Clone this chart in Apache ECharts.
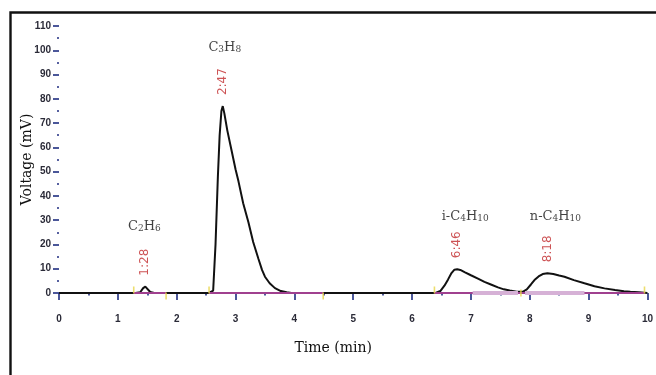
<!DOCTYPE html>
<html>
<head>
<meta charset="utf-8">
<script src="https://cdn.jsdelivr.net/npm/echarts@6/dist/echarts.min.js"></script>
<style>
  html, body { margin: 0; padding: 0; background: #fff; }
  #chart { width: 656px; height: 375px; }
</style>
</head>
<body>
<div id="chart"></div>
<script>
// Detector trace: time (min) and signal (mV)
const times = [0, 1.30, 1.38, 1.43, 1.467, 1.50, 1.55, 1.62,
  2.55, 2.62, 2.66, 2.70, 2.73, 2.76, 2.783, 2.81, 2.86, 2.93, 3.00, 3.05, 3.13, 3.22, 3.30, 3.39, 3.45, 3.50, 3.58, 3.67, 3.77, 3.87, 3.95,
  6.40, 6.48, 6.55, 6.61, 6.67, 6.72, 6.767, 6.82, 6.90, 7.00, 7.12, 7.23, 7.35, 7.46, 7.56, 7.66, 7.78,
  7.88, 7.95, 8.02, 8.08, 8.15, 8.22, 8.30, 8.40, 8.50, 8.59, 8.75, 8.93, 9.10, 9.27, 9.45, 9.60, 9.71, 9.85, 9.95, 10];
const voltage = [0, 0, 0.3, 2.0, 2.6, 2.0, 0.4, 0,
  0, 1, 20, 48, 65, 75, 77, 74, 67, 59, 51, 46, 37, 29, 21, 14, 9.5, 6.7, 4, 2, 0.8, 0.3, 0,
  0, 0.8, 3, 5.5, 8.2, 9.6, 9.8, 9.5, 8.5, 7.3, 5.9, 4.6, 3.4, 2.3, 1.5, 1, 0.5,
  0.5, 1.5, 3.5, 5.3, 6.8, 7.8, 8.1, 7.8, 7.2, 6.7, 5.3, 4.0, 2.8, 1.9, 1.2, 0.7, 0.5, 0.3, 0.1, 0];

// Identified peaks
const compoundNames = ['C2H6', 'C3H8', 'i-C4H10', 'n-C4H10'];
const retentionLabels = ['1:28', '2:47', '6:46', '8:18'];
const retentionTimes = [1.467, 2.783, 6.767, 8.30];
const peakHeights = [2.6, 77, 9.8, 8.1];

// Integration baselines (start, end) and highlighted sections
const baselineSegments = [[1.27, 1.82], [2.55, 4.49], [6.38, 7.85], [7.85, 9.95]];
const bandSegments = [[7.03, 7.80], [7.92, 8.93]];
const eventMarksUp = [1.27, 2.55, 6.38, 9.95];
const eventMarksDown = [1.82, 4.49];
const eventMarksMid = [7.85];

const xTicks = [0, 1, 2, 3, 4, 5, 6, 7, 8, 9, 10];
const yTicks = [0, 10, 20, 30, 40, 50, 60, 70, 80, 90, 100, 110];
const yMinorTicks = [5, 15, 25, 35, 45, 55, 65, 75, 85, 95, 105];

// The time scale sits a little below the zero line; the signal axis
// starts just under zero so that gap stays empty.
const yBottom = -4.95;
const yTop = 110;

// Name label placement relative to each peak apex (px)
const nameOffsets = [[-1, -62], [2, -60], [8, -54], [8, -58]];

function subscriptRich(name) {
  return name.replace(/(\d+)|([^\d]+)/g, (m, d, t) => d ? '{s|' + d + '}' : '{n|' + t + '}');
}

const trace = times.map((t, i) => [t, voltage[i]]);

const series = [{
  type: 'line',
  name: 'signal',
  data: trace,
  symbol: 'none',
  lineStyle: { color: '#111', width: 2 },
  z: 3
}];

baselineSegments.forEach(seg => {
  series.push({
    type: 'line',
    data: [[seg[0], 0], [seg[1], 0]],
    symbol: 'none',
    lineStyle: { color: '#a0408f', width: 1.8 },
    silent: true,
    z: 4
  });
});
bandSegments.forEach(seg => {
  series.push({
    type: 'line',
    data: [[seg[0], 0], [seg[1], 0]],
    symbol: 'none',
    lineStyle: { color: '#d6b1d6', width: 4 },
    silent: true,
    z: 4
  });
});

function marks(list, off) {
  return {
    type: 'scatter',
    data: list.map(t => [t, 0]),
    symbol: 'rect',
    symbolSize: [1.6, 7],
    symbolOffset: [0, off],
    itemStyle: { color: '#e9d64a' },
    silent: true,
    z: 5
  };
}
series.push(marks(eventMarksUp, -3), marks(eventMarksDown, 3), marks(eventMarksMid, 0));

// Retention time labels, rotated, above the apex
series.push({
  type: 'scatter',
  data: retentionTimes.map((t, i) => ({ value: [t, peakHeights[i]], label: { formatter: retentionLabels[i] } })),
  symbolSize: 0,
  silent: true,
  z: 6,
  label: {
    show: true,
    position: 'top',
    distance: 11,
    rotate: 90,
    align: 'left',
    verticalAlign: 'middle',
    color: '#c0282a',
    fontFamily: 'DejaVu Sans, sans-serif',
    fontSize: 12
  }
});

// Compound names
series.push({
  type: 'scatter',
  data: retentionTimes.map((t, i) => ({
    value: [t, peakHeights[i]],
    label: { formatter: subscriptRich(compoundNames[i]), offset: nameOffsets[i] }
  })),
  symbolSize: 0,
  silent: true,
  z: 6,
  label: {
    show: true,
    position: 'inside',
    align: 'center',
    verticalAlign: 'middle',
    color: '#111',
    rich: {
      n: { fontFamily: 'DejaVu Serif, serif', fontSize: 13, color: '#111', verticalAlign: 'bottom', lineHeight: 16 },
      s: { fontFamily: 'DejaVu Serif, serif', fontSize: 9, color: '#111', verticalAlign: 'bottom', lineHeight: 14 }
    }
  }
});

const tickColor = '#1f2d80';
const labelStyle = {
  color: '#2b2b38',
  fontFamily: 'Liberation Sans, Arial, sans-serif',
  fontSize: 10,
  fontWeight: 'bold'
};

const chart = echarts.init(document.getElementById('chart'), null, { renderer: 'canvas' });
chart.setOption({
  animation: false,
  backgroundColor: '#fff',
  grid: { left: 59, right: 6, top: 26, bottom: 70, containLabel: false },
  graphic: [{
    type: 'rect',
    shape: { x: 10.5, y: 12.5, width: 700, height: 500 },
    style: { fill: 'none', stroke: '#111', lineWidth: 2.4 },
    silent: true,
    z: 10
  }],
  xAxis: {
    type: 'value',
    min: 0, max: 10, interval: 1,
    name: 'Time (min)',
    nameLocation: 'middle',
    nameGap: 36,
    nameMoveOverlap: false,
    nameTextStyle: { fontFamily: 'DejaVu Serif, serif', fontSize: 14, color: '#111', padding: [0, 40, 0, 0] },
    axisLine: { show: false },
    axisTick: { show: true, inside: false, length: 7, lineStyle: { color: tickColor, width: 1.6 } },
    minorTick: { show: true, splitNumber: 2, length: 2.5, lineStyle: { color: tickColor, width: 1.6 } },
    axisLabel: Object.assign({ margin: 9, formatter: v => xTicks.includes(v) ? String(v) : '' }, labelStyle),
    splitLine: { show: false }
  },
  yAxis: [{
    type: 'value',
    min: yBottom, max: yTop,
    name: 'Voltage (mV)',
    nameLocation: 'middle',
    nameGap: 25,
    nameMoveOverlap: false,
    nameTextStyle: { fontFamily: 'DejaVu Serif, serif', fontSize: 14, color: '#111', padding: [0, 0, 0, 12] },
    axisLine: { show: false },
    axisTick: { show: true, length: 6, customValues: yTicks, lineStyle: { color: tickColor, width: 1.6 } },
    axisLabel: Object.assign({ margin: 8, customValues: yTicks, formatter: v => String(v) }, labelStyle),
    splitLine: { show: false }
  }, {
    // minor tick dots between labelled values
    type: 'value',
    min: yBottom, max: yTop,
    position: 'left',
    axisLine: { show: false },
    axisTick: { show: true, length: 2, customValues: yMinorTicks, lineStyle: { color: tickColor, width: 1.6 } },
    axisLabel: { show: false },
    splitLine: { show: false }
  }],
  series: series
});
</script>
</body>
</html>
